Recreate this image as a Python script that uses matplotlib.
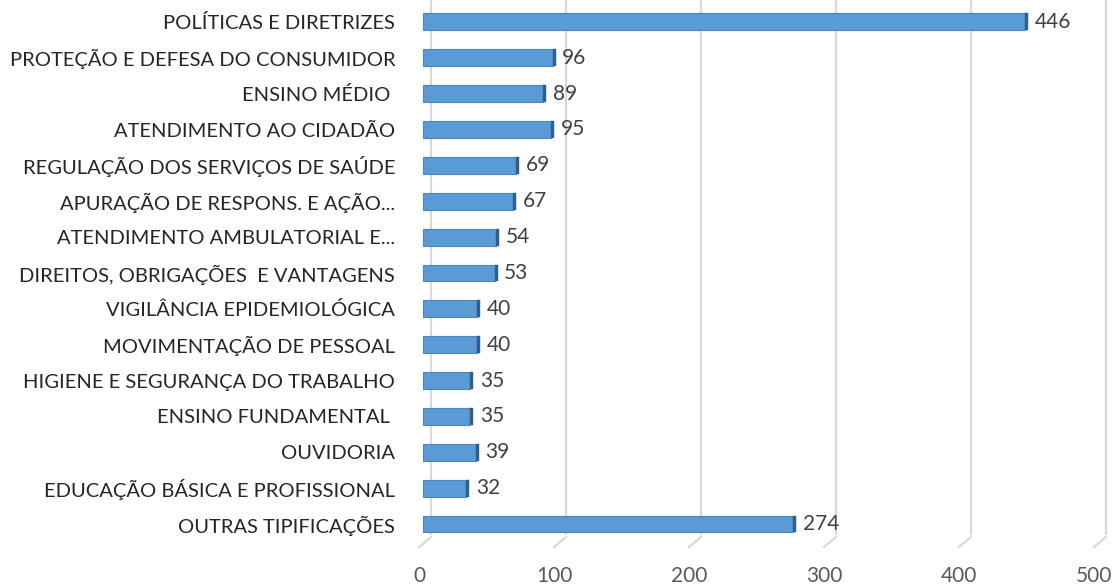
import matplotlib
matplotlib.use("Agg")
import matplotlib.pyplot as plt
import matplotlib.transforms as mtransforms
import numpy as np

categories = [
    "POLÍTICAS E DIRETRIZES",
    "PROTEÇÃO E DEFESA DO CONSUMIDOR",
    "ENSINO MÉDIO ",
    "ATENDIMENTO AO CIDADÃO",
    "REGULAÇÃO DOS SERVIÇOS DE SAÚDE",
    "APURAÇÃO DE RESPONS. E AÇÃO...",
    "ATENDIMENTO AMBULATORIAL E...",
    "DIREITOS, OBRIGAÇÕES  E VANTAGENS",
    "VIGILÂNCIA EPIDEMIOLÓGICA",
    "MOVIMENTAÇÃO DE PESSOAL",
    "HIGIENE E SEGURANÇA DO TRABALHO",
    "ENSINO FUNDAMENTAL ",
    "OUVIDORIA",
    "EDUCAÇÃO BÁSICA E PROFISSIONAL",
    "OUTRAS TIPIFICAÇÕES",
]
values = [446, 96, 89, 95, 69, 67, 54, 53, 40, 40, 35, 35, 39, 32, 274]
xticks = [0, 100, 200, 300, 400, 500]

plt.rcParams['font.family'] = ['Lato', 'DejaVu Sans']

W, H = 1113, 585
fig = plt.figure(figsize=(W / 100, H / 100), dpi=100)
left_px, right_px = 423, 1098
bottom_px, top_px = 547, 0
ax = fig.add_axes([left_px / W, (H - bottom_px) / H,
                   (right_px - left_px) / W, (bottom_px - top_px) / H])

y = np.arange(len(categories))
ax.set_xlim(0, 500)
ax.set_ylim(14.64, -0.61)

grid_col = "#D9D9D9"
for t in xticks:
    ax.plot([t, t], [0, 1], color=grid_col, lw=1.6, transform=mtransforms.blended_transform_factory(
        mtransforms.offset_copy(ax.transData, fig=fig, x=8, y=0, units='dots'), ax.transAxes),
        clip_on=False, zorder=0)
inv = fig.transFigure.inverted()
for t in xticks:
    x0_disp = ax.transData.transform((t, 0))[0]
    yb = ax.transAxes.transform((0, 0))[1]
    a = inv.transform((x0_disp + 8, yb + 10))
    b = inv.transform((x0_disp - 4, yb))
    c = inv.transform((x0_disp + 8, yb - 1))
    fig.add_artist(plt.Line2D([c[0], a[0]], [c[1], a[1]], color="white", lw=3, zorder=1))
    fig.add_artist(plt.Line2D([a[0], b[0]], [a[1], b[1]], color=grid_col, lw=1.6, zorder=2))

bar_h = 0.47
ax.barh(y, values, height=bar_h, color="#5B9BD5", edgecolor="#4A86C0", lw=0.8, zorder=3)
# darker end face
ax.barh(y, [2.2 for v in values], left=values, height=bar_h, color="#2F5F8F",
        edgecolor="#2F5F8F", lw=0.3, zorder=3)

for yi, v in zip(y, values):
    ax.annotate(str(v), xy=(v, yi), xytext=(7, 0), textcoords="offset points",
                va="center", ha="left", fontsize=15, color="#404040")

ax.set_yticks(y)
ax.set_yticklabels(categories, fontsize=14.5, color="#262626")
ax.tick_params(axis='y', length=0, pad=20)
ax.set_xticks(xticks)
ax.set_xticklabels([str(t) for t in xticks], fontsize=15, color="#595959")
ax.tick_params(axis='x', length=0, pad=14)
for lbl in ax.get_xticklabels():
    lbl.set_transform(lbl.get_transform() + mtransforms.ScaledTranslation(-4 / 100, 0, fig.dpi_scale_trans))
for s in ax.spines.values():
    s.set_visible(False)
ax.set_facecolor("none")

fig.savefig("out.png", dpi=100, facecolor="white")
